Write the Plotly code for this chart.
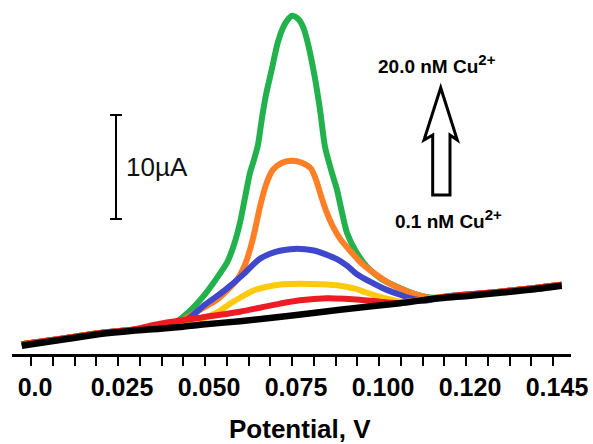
import plotly.graph_objects as go

# ---- data (Potential in V, current in µA) ----
black_v = [-0.00267, 0.01026, 0.01983, 0.02931, 0.03707, 0.04368, 0.04856, 0.06006, 0.07443, 0.08879,
           0.10603, 0.11466, 0.12615, 0.13477, 0.14339, 0.15250]
black_i = [0.80, 1.44, 1.92, 2.24, 2.43, 2.63, 2.82, 3.15, 3.68, 4.26,
           4.88, 5.27, 5.61, 5.89, 6.18, 6.57]

green_v = [-0.00267, 0.01026, 0.01983, 0.02931, 0.0360, 0.04138, 0.04569, 0.04943, 0.05287, 0.05632, 0.05833,
           0.06006, 0.06149, 0.06293, 0.06408, 0.06523, 0.06638, 0.06753, 0.06897, 0.07098, 0.07241, 0.07356,
           0.07500, 0.07672, 0.07816, 0.07931, 0.08132, 0.08305, 0.08448, 0.08621, 0.08793, 0.08937, 0.09080,
           0.09339, 0.09655, 0.10057, 0.10517, 0.11092, 0.11523, 0.1200, 0.1348, 0.1525]
green_i = [0.95, 1.55, 2.02, 2.34, 2.55, 3.01, 4.16, 5.51, 7.05, 8.78, 10.51,
           12.63, 15.03, 17.43, 18.68, 20.13, 22.72, 24.93, 27.05, 30.03, 31.38, 32.05,
           32.53, 32.24, 31.47, 30.22, 27.05, 23.49, 19.93, 17.72, 15.80, 13.59, 11.66,
           9.84, 8.39, 7.24, 6.47, 5.70, 5.41, 5.55, 5.99, 6.67]

orange_v = [-0.00267, 0.01026, 0.01983, 0.02931, 0.0365, 0.04282, 0.04856, 0.05345, 0.05920, 0.06149, 0.06293,
            0.06437, 0.06580, 0.06753, 0.06954, 0.07213, 0.07500, 0.07787, 0.08046, 0.08190, 0.08333, 0.08477,
            0.08649, 0.08879, 0.09167, 0.09511, 0.09885, 0.10316, 0.10747, 0.11178, 0.11523, 0.1200, 0.1348, 0.1525]
orange_i = [0.95, 1.55, 2.02, 2.34, 2.60, 3.11, 4.26, 5.22, 7.14, 8.59, 10.03,
            11.95, 14.16, 16.28, 17.72, 18.39, 18.59, 18.39, 17.82, 16.76, 15.22, 13.78,
            12.43, 11.09, 9.93, 8.68, 7.72, 6.76, 6.09, 5.61, 5.37, 5.55, 5.99, 6.67]

blue_v = [-0.00267, 0.01026, 0.01983, 0.02931, 0.0370, 0.04425, 0.05000, 0.05517, 0.06092, 0.06351, 0.06580,
          0.06868, 0.07155, 0.07443, 0.07644, 0.07874, 0.08161, 0.08448, 0.08793, 0.09080, 0.09368, 0.09741,
          0.10115, 0.10517, 0.10891, 0.11322, 0.1200, 0.1348, 0.1525]
blue_i = [0.95, 1.55, 2.02, 2.34, 2.62, 3.20, 4.74, 5.99, 7.63, 8.49, 9.16,
          9.64, 9.93, 10.08, 10.13, 10.08, 9.93, 9.60, 9.12, 8.49, 7.67, 6.95,
          6.33, 5.80, 5.37, 5.13, 5.55, 5.99, 6.67]

yellow_v = [-0.00267, 0.01026, 0.01983, 0.02931, 0.0380, 0.04569, 0.04856, 0.05144, 0.05431, 0.05718, 0.06006,
            0.06379, 0.06782, 0.07241, 0.07730, 0.08305, 0.08879, 0.09310, 0.09655, 0.10230, 0.10690,
            0.1200, 0.1348, 0.1525]
yellow_i = [0.95, 1.55, 2.02, 2.34, 2.68, 3.11, 3.30, 3.68, 4.16, 4.84, 5.41,
            6.09, 6.47, 6.71, 6.76, 6.71, 6.57, 6.28, 5.89, 5.32, 5.00,
            5.55, 5.99, 6.67]

red_v = [-0.00267, 0.01026, 0.01983, 0.02845, 0.03707, 0.04856, 0.06006, 0.06580, 0.07155, 0.07730,
         0.08506, 0.09023, 0.09454, 0.10029, 0.10546, 0.1200, 0.1348, 0.1525]
red_i = [0.95, 1.55, 2.02, 2.30, 2.91, 3.49, 4.07, 4.45, 4.84, 5.17,
         5.37, 5.32, 5.22, 5.03, 4.90, 5.55, 5.99, 6.67]

tick_vals = [0.0, 0.025, 0.05, 0.075, 0.1, 0.125, 0.15]
tick_labels = ["0.0", "0.025", "0.050", "0.075", "0.100", "0.120", "0.145"]
minor_step = 0.00625

FONT = "Liberation Sans, Arial, sans-serif"
W, H = 593, 444
ML, MR, MT, MB = 12, 22, 0, 90
PW, PH = W - ML - MR, H - MT - MB


def px(x):
    return (x - ML) / PW


def py(y):
    return (H - MB - y) / PH


fig = go.Figure()
series = [
    (green_v, green_i, "#22b14c", 6),
    (orange_v, orange_i, "#ff7f27", 6),
    (blue_v, blue_i, "#3f48cc", 6),
    (yellow_v, yellow_i, "#ffc90e", 6),
    (red_v, red_i, "#ed1c24", 6),
    (black_v, black_i, "#000000", 6.5),
]
for xv, yv, col, lw in series:
    fig.add_trace(go.Scatter(x=xv, y=yv, mode="lines",
                             line=dict(color=col, width=lw, shape="spline", smoothing=0.7),
                             showlegend=False, hoverinfo="skip"))

x0 = (ML - 31) / 3480
x1 = (W - MR - 31) / 3480
fig.update_xaxes(range=[x0, x1], showgrid=False, zeroline=False, showline=True,
                 linecolor="black", linewidth=3, ticks="outside", ticklen=9, tickwidth=2,
                 tickcolor="black", tickmode="array", tickvals=tick_vals, ticktext=tick_labels,
                 tickfont=dict(family=FONT, size=25, color="black", weight="bold"),
                 ticklabelshift=4,
                 minor=dict(ticks="outside", ticklen=9, tickwidth=2, tickcolor="black",
                            tick0=0, dtick=minor_step, showgrid=False))
fig.update_yaxes(range=[0, PH / 10.4], visible=False)

# scale bar
sx, st, sb = 116, 115, 219
fig.add_shape(type="line", xref="paper", yref="paper", x0=px(sx), x1=px(sx), y0=py(st), y1=py(sb),
              line=dict(color="black", width=2))
for yy in (st, sb):
    fig.add_shape(type="line", xref="paper", yref="paper", x0=px(sx - 6), x1=px(sx + 6), y0=py(yy), y1=py(yy),
                  line=dict(color="black", width=2))
fig.add_annotation(text="10µA", xref="paper", yref="paper", x=px(124), y=py(167),
                   xanchor="left", yanchor="middle", showarrow=False,
                   font=dict(family=FONT, size=26, color="#111"))

# hollow arrow
pts = [(432.7, 195), (432.7, 135), (424, 140), (440.7, 87.7), (457.3, 140), (450, 135), (450, 195)]
path = "M " + " L ".join(f"{px(a):.5f},{py(b):.5f}" for a, b in pts) + " Z"
fig.add_shape(type="path", xref="paper", yref="paper", path=path,
              line=dict(color="black", width=3), fillcolor="white")

sup = '<sup><span style="font-size:15px">2+</span></sup>'
fig.add_annotation(text="20.0 nM Cu" + sup, xref="paper", yref="paper", x=px(437), y=py(64),
                   xanchor="center", yanchor="middle", showarrow=False,
                   font=dict(family=FONT, size=19, color="black", weight="bold"))
fig.add_annotation(text="0.1 nM Cu" + sup, xref="paper", yref="paper", x=px(448), y=py(219),
                   xanchor="center", yanchor="middle", showarrow=False,
                   font=dict(family=FONT, size=19, color="black", weight="bold"))

fig.add_annotation(text="Potential, V", xref="paper", yref="paper", x=px(300), y=py(429),
                   xanchor="center", yanchor="middle", showarrow=False,
                   font=dict(family=FONT, size=26, color="black", weight="bold"))

fig.update_layout(width=W, height=H, margin=dict(l=ML, r=MR, t=MT, b=MB),
                  paper_bgcolor="white", plot_bgcolor="white")
fig.write_html("out.html", config={"displayModeBar": False},
               post_script="document.body.style.margin='0';document.body.style.overflow='hidden';")
